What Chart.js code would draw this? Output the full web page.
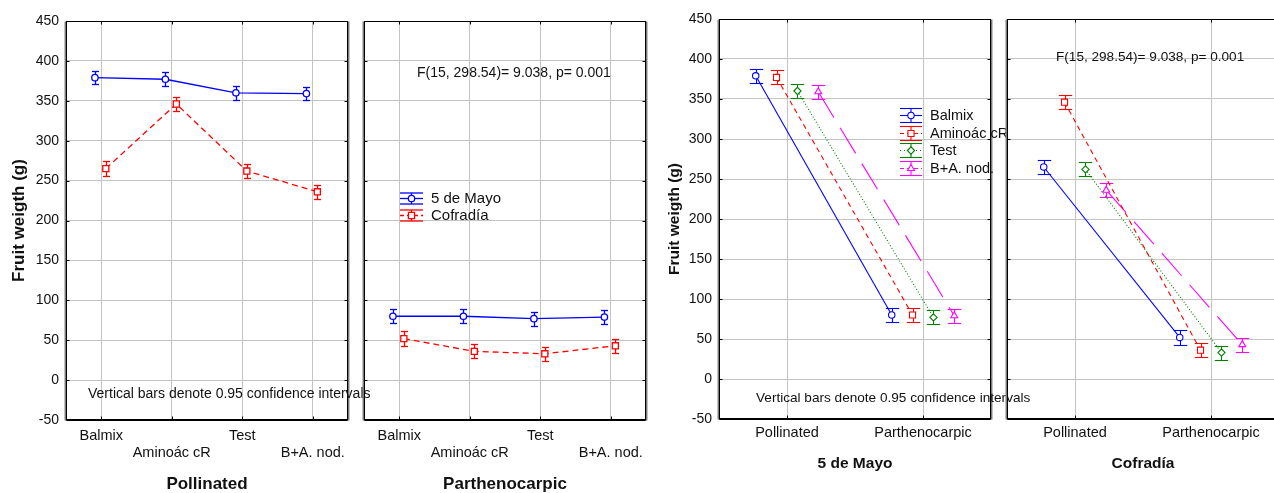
<!DOCTYPE html>
<html>
<head>
<meta charset="utf-8">
<script src="https://cdn.jsdelivr.net/npm/chart.js@4.4.1/dist/chart.umd.min.js"></script>
<style>
  html, body { margin: 0; padding: 0; background: #fff; }
  body { position: relative; width: 1274px; height: 493px; overflow: hidden; }
  canvas { position: absolute; top: 0; }
</style>
</head>
<body>
<canvas id="pollinated" width="390" height="493" style="left:0px"></canvas>
<canvas id="parthenocarpic" width="310" height="493" style="left:350px"></canvas>
<canvas id="mayo" width="385" height="493" style="left:655px"></canvas>
<canvas id="cofradia" width="290" height="493" style="left:995px"></canvas>
<script>
// --- data ---
const treatments = ["Balmix", "Aminoác cR", "Test", "B+A. nod."];
const fruitTypes = ["Pollinated", "Parthenocarpic"];
const cultivars = ["5 de Mayo", "Cofradía"];

const mayoPollinated = [379, 377, 360, 359];
const mayoParthenocarpic = [80, 80, 77, 79];
const cofradiaPollinated = [265, 346, 262, 236];
const cofradiaParthenocarpic = [52, 36, 33, 43];

// half width of the 0.95 confidence intervals
const mayoPollinatedCI = [8.5, 8.7, 8.5, 8.5];
const mayoParthenocarpicCI = [8.5, 8.5, 8.7, 8.5];
const cofradiaPollinatedCI = [9, 8.7, 8.7, 8.7];
const cofradiaParthenocarpicCI = [9, 8.7, 8.7, 8.7];

const yTitle = "Fruit weigth (g)";
const statText = "F(15, 298.54)= 9.038, p= 0.001";
const noteText = "Vertical bars denote 0.95 confidence intervals";

// --- styles ---
const FONT = '"Liberation Sans", Arial, Helvetica, sans-serif';
const ink = "#111";
const gridColor = "#c4c4c4";

const cultivarStyles = [
  { color: "#0000ff", dash: [], point: "circle", radius: 3.2 },
  { color: "#ff0000", dash: [6, 4], point: "rect", radius: 4.3 }
];
const treatmentStyles = [
  { color: "#0000ff", dash: [], point: "circle", radius: 3.2 },
  { color: "#ff0000", dash: [5, 4], point: "rect", radius: 4.3 },
  { color: "#008000", dash: [1, 2], point: "rectRot", radius: 3.6 },
  { color: "#ff00ff", dash: [30, 12], point: "triangle", radius: 4 }
];
const cultivarOffsets = [-0.09, 0.065];
const treatmentOffsets = [-0.23, -0.077, 0.077, 0.23];

function line(ctx, x1, y1, x2, y2) {
  ctx.beginPath(); ctx.moveTo(x1, y1); ctx.lineTo(x2, y2); ctx.stroke();
}

function marker(ctx, ds, x, y) {
  ctx.save();
  ctx.setLineDash([]);
  ctx.lineWidth = ds.borderWidth;
  ctx.strokeStyle = ds.borderColor;
  ctx.fillStyle = "#fff";
  Chart.helpers.drawPoint(ctx, { pointStyle: ds.pointStyle, radius: ds.pointRadius, rotation: 0, borderWidth: 1 }, x, y);
  ctx.restore();
}

const errorBars = {
  id: "errorBars",
  beforeDatasetsDraw(chart) {
    const { ctx, scales: { x, y } } = chart;
    const cap = chart.options.plugins.errorBars.cap;
    chart.data.datasets.forEach(ds => {
      ctx.save();
      ctx.strokeStyle = ds.borderColor;
      ctx.lineWidth = ds.borderWidth;
      ds.data.forEach((p, i) => {
        const px = Math.round(x.getPixelForValue(p.x)) + 0.5;
        const hi = Math.round(y.getPixelForValue(p.y + ds.ci[i])) + 0.5;
        const lo = Math.round(y.getPixelForValue(p.y - ds.ci[i])) + 0.5;
        line(ctx, px, hi, px, lo);
        line(ctx, px - cap, hi, px + cap, hi);
        line(ctx, px - cap, lo, px + cap, lo);
      });
      ctx.restore();
    });
  }
};

const frame = {
  id: "frame",
  afterDatasetsDraw(chart) {
    const { ctx, chartArea: a, scales: { x, y } } = chart;
    const L = Math.round(a.left) + 0.5, R = Math.round(a.right) - 0.5;
    const T = Math.round(a.top) + 0.5, B = Math.round(a.bottom) - 0.5;
    ctx.save();
    ctx.strokeStyle = "#7a7a7a";
    ctx.lineWidth = 1.5;
    line(ctx, L - 1.2, T, L - 1.2, B + 1);
    line(ctx, R + 1.2, T, R + 1.2, B + 1);
    ctx.strokeStyle = "#000";
    ctx.lineWidth = 1;
    ctx.strokeRect(L, T, R - L, B - T);
    line(ctx, L, B + 1, R, B + 1);
    // short inward ticks
    y.ticks.forEach(t => {
      const py = Math.round(y.getPixelForValue(t.value)) + 0.5;
      line(ctx, L, py, L + 3, py);
      line(ctx, R - 3, py, R, py);
    });
    x.ticks.forEach(t => {
      const px = Math.round(x.getPixelForValue(t.value)) + 0.5;
      line(ctx, px, B, px, B - 3);
      line(ctx, px, T, px, T + 3);
    });
    ctx.restore();
  }
};

const panelNotes = {
  id: "panelNotes",
  afterDraw(chart) {
    const { ctx, chartArea: a } = chart;
    const o = chart.options.plugins.panelNotes;
    ctx.save();
    ctx.fillStyle = ink;
    ctx.textBaseline = "middle";
    ctx.textAlign = "left";
    (o.texts || []).forEach(t => {
      ctx.font = t.size + "px " + FONT;
      ctx.fillText(t.text, a.left + t.dx, a.top + t.dy);
    });
    if (o.legend) {
      const g = o.legend;
      chart.data.datasets.forEach((ds, k) => {
        const x0 = a.left + g.dx, yc = Math.round(a.top + g.dy + k * g.step) + 0.5;
        ctx.strokeStyle = ds.borderColor;
        ctx.lineWidth = ds.borderWidth;
        ctx.setLineDash([]);
        line(ctx, x0, yc - g.cap, x0 + g.w, yc - g.cap);
        line(ctx, x0, yc + g.cap, x0 + g.w, yc + g.cap);
        line(ctx, x0 + g.w / 2, yc - g.cap, x0 + g.w / 2, yc + g.cap);
        ctx.setLineDash(ds.borderDash.length ? [Math.min(ds.borderDash[0], 4), 3] : []);
        line(ctx, x0, yc, x0 + g.w, yc);
        ctx.setLineDash([]);
        marker(ctx, ds, x0 + g.w / 2, yc);
        ctx.fillStyle = ink;
        ctx.font = g.size + "px " + FONT;
        ctx.fillText(ds.label, x0 + g.w + g.gap, yc);
      });
    }
    ctx.restore();
  }
};

function buildPanel(canvasId, cfg) {
  const ctx = document.getElementById(canvasId).getContext("2d");
  const datasets = cfg.series.map(s => ({
    label: s.label,
    data: s.values.map((v, i) => ({ x: i + s.offset, y: v })),
    ci: s.ci,
    showLine: true,
    borderColor: s.style.color,
    borderWidth: cfg.lineWidth,
    borderDash: s.style.dash,
    pointStyle: s.style.point,
    pointRadius: s.style.radius,
    pointHoverRadius: s.style.radius,
    pointBorderColor: s.style.color,
    pointBackgroundColor: "#fff",
    pointBorderWidth: cfg.lineWidth
  }));
  return new Chart(ctx, {
    type: "scatter",
    data: { datasets },
    options: {
      responsive: false,
      animation: false,
      events: [],
      layout: { padding: cfg.padding },
      plugins: {
        legend: { display: false },
        tooltip: { enabled: false },
        errorBars: { cap: cfg.cap },
        panelNotes: cfg.notes
      },
      scales: {
        x: {
          type: "linear",
          min: -0.5,
          max: cfg.labels.length - 0.5,
          afterBuildTicks: s => { s.ticks = cfg.labels.map((_, i) => ({ value: i })); },
          afterFit: s => { s.height = cfg.xH; },
          grid: { color: gridColor, lineWidth: 1, drawTicks: false },
          border: { display: false },
          ticks: {
            autoSkip: false, minRotation: 0, maxRotation: 0,
            padding: cfg.tickPad, color: ink,
            font: { family: FONT, size: 14.5 },
            callback: (v, i) => (cfg.stagger && i % 2 ? ["", cfg.labels[i]] : cfg.labels[i])
          },
          title: {
            display: true, text: cfg.xTitle, color: ink,
            font: { family: FONT, size: cfg.xTitleSize, weight: "bold", lineHeight: cfg.xTitleLH },
            padding: { top: 0, bottom: cfg.xTitlePad }
          }
        },
        y: {
          min: -50,
          max: 450,
          afterFit: s => { s.width = cfg.yW; },
          grid: { color: gridColor, lineWidth: 1, drawTicks: false },
          border: { display: false },
          ticks: {
            display: cfg.showY, stepSize: 50, padding: 7, color: ink,
            font: { family: FONT, size: 14 }
          },
          title: {
            display: cfg.showY, text: yTitle, color: ink,
            font: { family: FONT, size: cfg.yTitleSize, weight: "bold" },
            padding: { top: cfg.yTitlePad, bottom: 0 }
          }
        }
      }
    },
    plugins: [errorBars, frame, panelNotes]
  });
}

const leftSeries = (poll, pollCI) => cultivars.map((c, k) => ({
  label: c, values: poll[k], ci: pollCI[k], style: cultivarStyles[k], offset: cultivarOffsets[k]
}));
const rightSeries = (poll, parth, pollCI, parthCI) => treatments.map((t, k) => ({
  label: t, values: [poll[k], parth[k]], ci: [pollCI[k], parthCI[k]],
  style: treatmentStyles[k], offset: treatmentOffsets[k]
}));

buildPanel("pollinated", {
  labels: treatments, stagger: true, xTitle: "Pollinated", xTitleSize: 17, xTitleLH: 1, xTitlePad: 0,
  series: leftSeries([mayoPollinated, cofradiaPollinated], [mayoPollinatedCI, cofradiaPollinatedCI]),
  showY: true, yW: 66, xH: 73, yTitleSize: 17, yTitlePad: 9, tickPad: 6.8, cap: 3.5, lineWidth: 1.3,
  padding: { left: 0, top: 21, right: 42, bottom: 0 },
  notes: { texts: [{ text: noteText, dx: 22, dy: 373, size: 14 }] }
});

buildPanel("parthenocarpic", {
  labels: treatments, stagger: true, xTitle: "Parthenocarpic", xTitleSize: 17, xTitleLH: 1, xTitlePad: 0,
  series: leftSeries([mayoParthenocarpic, cofradiaParthenocarpic], [mayoParthenocarpicCI, cofradiaParthenocarpicCI]),
  showY: false, yW: 0, xH: 73, yTitleSize: 17, yTitlePad: 0, tickPad: 6.8, cap: 3.5, lineWidth: 1.3,
  padding: { left: 14, top: 21, right: 14, bottom: 0 },
  notes: {
    texts: [{ text: statText, dx: 53, dy: 52, size: 14 }],
    legend: { dx: 36, dy: 177, step: 16.7, w: 23, cap: 5.5, gap: 8, size: 15 }
  }
});

buildPanel("mayo", {
  labels: fruitTypes, stagger: false, xTitle: cultivars[0], xTitleSize: 15.5, xTitleLH: 1.2, xTitlePad: 20,
  series: rightSeries(mayoPollinated, mayoParthenocarpic, mayoPollinatedCI, mayoParthenocarpicCI),
  showY: true, yW: 64, xH: 74, yTitleSize: 15.5, yTitlePad: 10, tickPad: 5.3, cap: 6.7, lineWidth: 1.1,
  padding: { left: 0, top: 19, right: 49, bottom: 0 },
  notes: {
    texts: [{ text: noteText, dx: 37, dy: 379, size: 13.6 }],
    legend: { dx: 181, dy: 96, step: 17.7, w: 22, cap: 7, gap: 8, size: 14.5 }
  }
});

buildPanel("cofradia", {
  labels: fruitTypes, stagger: false, xTitle: cultivars[1], xTitleSize: 15.5, xTitleLH: 1.2, xTitlePad: 20,
  series: rightSeries(cofradiaPollinated, cofradiaParthenocarpic, cofradiaPollinatedCI, cofradiaParthenocarpicCI),
  showY: false, yW: 0, xH: 74, yTitleSize: 15.5, yTitlePad: 0, tickPad: 5.3, cap: 6.7, lineWidth: 1.1,
  padding: { left: 12, top: 19, right: 6, bottom: 0 },
  notes: { texts: [{ text: statText, dx: 49, dy: 38, size: 13.6 }] }
});
</script>
</body>
</html>
